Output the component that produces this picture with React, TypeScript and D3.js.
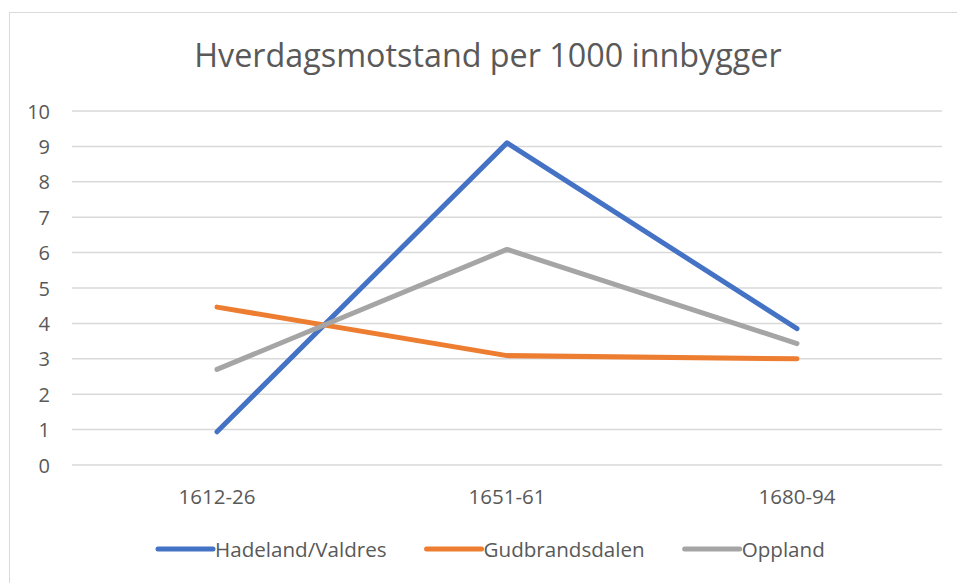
import React, { useRef, useEffect } from "react";
import * as d3 from "d3";

const categories = ["1612-26", "1651-61", "1680-94"];
const hadeland = [0.94, 9.1, 3.85];
const gudbrandsdalen = [4.46, 3.09, 3.0];
const oppland = [2.7, 6.09, 3.43];
const seriesNames = ["Hadeland/Valdres", "Gudbrandsdalen", "Oppland"];
const yTicks = [0, 1, 2, 3, 4, 5, 6, 7, 8, 9, 10];

const colors = ["#4472C4", "#ED7D31", "#A5A5A5"];
const font = "'Open Sans', 'Noto Sans', sans-serif";

function App() {
  const svgRef = useRef<SVGSVGElement>(null);

  useEffect(() => {
    const svg = d3.select(svgRef.current);
    svg.selectAll("*").remove();

    // chart box border (runs off the right/bottom edge)
    svg
      .append("rect")
      .attr("x", 9.5)
      .attr("y", 12.5)
      .attr("width", 960)
      .attr("height", 600)
      .attr("fill", "#fff")
      .attr("stroke", "#D9D9D9")
      .attr("stroke-width", 1);

    // title
    svg
      .append("text")
      .attr("x", 488)
      .attr("y", 67)
      .attr("text-anchor", "middle")
      .attr("font-family", font)
      .attr("font-size", 32.3)
      .attr("fill", "#595959")
      .text("Hverdagsmotstand per 1000 innbygger");

    // scales
    const xScale = d3.scaleBand().domain(categories).range([72, 942]);
    const xPos = (c: string) => (xScale(c) as number) + xScale.bandwidth() / 2;
    const yScale = d3.scaleLinear().domain([0, 10]).range([465, 111]);

    // gridlines
    svg
      .append("g")
      .selectAll("line")
      .data(yTicks)
      .join("line")
      .attr("x1", 72)
      .attr("x2", 942)
      .attr("y1", d => yScale(d))
      .attr("y2", d => yScale(d))
      .attr("stroke", "#D9D9D9")
      .attr("stroke-width", 1.5);

    // y labels
    svg
      .append("g")
      .selectAll("text")
      .data(yTicks)
      .join("text")
      .attr("x", 50)
      .attr("y", d => yScale(d) + 7.5)
      .attr("text-anchor", "end")
      .attr("font-family", font)
      .attr("font-size", 20)
      .attr("fill", "#595959")
      .text(d => d);

    // x labels
    svg
      .append("g")
      .selectAll("text")
      .data(categories)
      .join("text")
      .attr("x", d => xPos(d))
      .attr("y", 504)
      .attr("text-anchor", "middle")
      .attr("font-family", font)
      .attr("font-size", 20.5)
      .attr("fill", "#595959")
      .text(d => d);

    // lines
    const series = [hadeland, gudbrandsdalen, oppland];
    const lineGen = d3
      .line<number>()
      .x((_, i) => xPos(categories[i]))
      .y(d => yScale(d));

    series.forEach((values, i) => {
      svg
        .append("path")
        .attr("d", lineGen(values))
        .attr("fill", "none")
        .attr("stroke", colors[i])
        .attr("stroke-width", 5)
        .attr("stroke-linecap", "round")
        .attr("stroke-linejoin", "round");
    });

    // legend
    const legend = svg.append("g").attr("transform", "translate(158,0)");
    let cursor = 0;
    seriesNames.forEach((name, i) => {
      const item = legend.append("g").attr("transform", `translate(${cursor},0)`);
      item
        .append("line")
        .attr("x1", 0)
        .attr("x2", 55)
        .attr("y1", 549)
        .attr("y2", 549)
        .attr("stroke", colors[i])
        .attr("stroke-width", 5)
        .attr("stroke-linecap", "round");
      const t = item
        .append("text")
        .attr("x", 57)
        .attr("y", 557)
        .attr("font-family", font)
        .attr("font-size", 20.6)
        .attr("fill", "#595959")
        .text(name);
      const w = (t.node() as SVGTextElement).getComputedTextLength();
      cursor += 57 + w + 40;
    });
  }, []);

  return (
    <svg
      ref={svgRef}
      width={957}
      height={583}
      style={{ position: "absolute", left: 0, top: 0 }}
    />
  );
}

export default App;
